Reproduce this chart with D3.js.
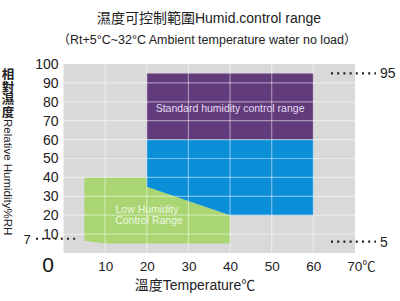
<!DOCTYPE html>
<html><head><meta charset="utf-8">
<script src="https://cdn.jsdelivr.net/npm/d3@7"></script>
<style>body{margin:0;background:#fff}svg{display:block}</style>
</head><body>
<svg id="c" width="400" height="301"></svg>
<script>
const xTicks = [10, 20, 30, 40, 50, 60];
const xLastLabel = "70℃";
const yTicks = [10, 20, 30, 40, 50, 60, 70, 80, 90, 100];
// regions: [temperature, humidity] points
const standardRegion = [[20, 95], [60, 95], [60, 60], [20, 60]];
const blueRegion = [[20, 60], [60, 60], [60, 20], [40, 20], [20, 35]];
const lowRegion = [[5, 39.5], [6, 40], [20, 40], [20, 35], [40, 20], [40, 5], [10, 5], [5, 6.5]];
const refLeft = {label: "7", value: 7};
const refRight = [{label: "95", value: 95}, {label: "5", value: 5}];
const titles = ["濕度可控制範圍Humid.control range", "（Rt+5°C~32°C  Ambient temperature water no load）"];

const svg = d3.select("#c");
const font = "Arial, 'Liberation Sans', 'Noto Sans CJK SC', sans-serif";
const x = d3.scaleLinear().domain([0, 70]).range([63.5, 355]);
const y = d3.scaleLinear().domain([0, 100]).range([253, 64]);

svg.append("rect").attr("x", x(0)).attr("y", y(100)).attr("width", x(70) - x(0)).attr("height", y(0) - y(100)).attr("fill", "#d9d9d9");

const line = d3.line().x(d => x(d[0])).y(d => y(d[1]));
svg.append("path").attr("d", line(lowRegion) + "Z").attr("fill", "#a9d672");
svg.append("path").attr("d", line(blueRegion) + "Z").attr("fill", "#0b8fd9");
svg.append("path").attr("d", line(standardRegion) + "Z").attr("fill", "#613b7c");

// grid
const g = svg.append("g").attr("stroke", "#fff").attr("stroke-opacity", 0.45).attr("stroke-width", 1.2);
g.selectAll("line.h").data(yTicks.slice(0, -1)).join("line")
  .attr("x1", x(0)).attr("x2", x(70)).attr("y1", d => y(d)).attr("y2", d => y(d));
g.selectAll("line.v").data(xTicks).join("line")
  .attr("y1", y(0)).attr("y2", y(100)).attr("x1", d => x(d)).attr("x2", d => x(d));

// y axis labels
const yAxis = d3.axisLeft(y).tickValues(yTicks).tickSize(0).tickPadding(4);
const ya = svg.append("g").attr("transform", `translate(${x(0) - 1},0)`).call(yAxis);
ya.select(".domain").remove();
ya.selectAll("text").attr("font-family", font).attr("font-size", 14).attr("fill", "#222");

// x axis labels
const xAxis = d3.axisBottom(x).tickValues(xTicks.concat([70])).tickSize(0).tickPadding(8)
  .tickFormat(d => d === 70 ? xLastLabel : d);
const xa = svg.append("g").attr("transform", `translate(0,${y(0)})`).call(xAxis);
xa.select(".domain").remove();
xa.selectAll("text").attr("font-family", font).attr("font-size", 13.5).attr("fill", "#222");
xa.selectAll("text").filter(d => d === 70).attr("dx", 6);

svg.append("text").attr("x", 48).attr("y", 272).attr("text-anchor", "middle")
  .attr("font-family", font).attr("font-size", 21).attr("fill", "#111").text("0");

// reference dotted lines
function dots(x1, x2, yy) {
  svg.append("line").attr("x1", x1).attr("x2", x2).attr("y1", yy).attr("y2", yy)
    .attr("stroke", "#222").attr("stroke-width", 2.2).attr("stroke-dasharray", "2,4.2");
}
dots(36, 78, y(refLeft.value) - 1);
svg.append("text").attr("x", 27).attr("y", y(refLeft.value) + 4).attr("text-anchor", "middle")
  .attr("font-family", font).attr("font-size", 13).attr("fill", "#222").text(refLeft.label);
refRight.forEach(r => {
  const yy = y(r.value) + (r.value < 50 ? -2 : 0);
  dots(331, 376, yy);
  svg.append("text").attr("x", 380).attr("y", yy + 5).attr("font-family", font)
    .attr("font-size", 14).attr("fill", "#222").text(r.label);
});

// region labels
svg.append("text").attr("x", x(40)).attr("y", 112).attr("text-anchor", "middle")
  .attr("font-family", font).attr("font-size", 10.5).attr("fill", "#e6dcef").text("Standard humidity control range");
const lt = svg.append("text").attr("font-family", font).attr("font-size", 10.5).attr("fill", "#eef7e2").attr("text-anchor", "middle");
lt.append("tspan").attr("x", 147).attr("y", 213).text("Low Humidity");
lt.append("tspan").attr("x", 149).attr("y", 224).text("Control Range");

// titles
svg.append("text").attr("x", 209).attr("y", 23).attr("text-anchor", "middle")
  .attr("font-family", font).attr("font-size", 14).attr("fill", "#222").text(titles[0]);
svg.append("text").attr("x", 207).attr("y", 44).attr("text-anchor", "middle")
  .attr("font-family", font).attr("font-size", 12.5).attr("fill", "#222").text(titles[1]);

// x title
svg.append("text").attr("x", 195).attr("y", 290).attr("text-anchor", "middle")
  .attr("font-family", font).attr("font-size", 14).attr("fill", "#222").text("溫度Temperature℃");

// y title
const cjk = ["相", "對", "濕", "度"];
svg.selectAll("text.yc").data(cjk).join("text").attr("x", 8).attr("y", (d, i) => 79 + i * 12.6)
  .attr("text-anchor", "middle").attr("font-family", font).attr("font-size", 12.5).attr("font-weight", "bold")
  .attr("fill", "#222").text(d => d);
svg.append("text").attr("transform", "translate(4,119) rotate(90)")
  .attr("font-family", font).attr("font-size", 11.5).attr("fill", "#222").text("Relative Humidity%RH");
</script>
</body></html>
